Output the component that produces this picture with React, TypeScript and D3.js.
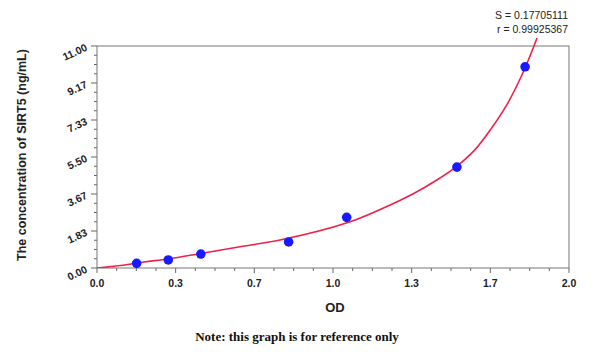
import { useEffect, useRef } from "react";
import * as d3 from "d3";

// measured standards (OD, concentration)
const pointOD = [0.168, 0.302, 0.44, 0.812, 1.058, 1.525, 1.814];
const pointConc = [0.23, 0.4, 0.69, 1.29, 2.51, 5.0, 9.97];

// fitted curve
const curveOD = [0.0, 0.1, 0.2, 0.3, 0.44, 0.6, 0.79, 1.06, 1.2, 1.34, 1.44, 1.52, 1.6, 1.67, 1.74, 1.8, 1.85, 1.88];
const curveConc = [0.0, 0.12, 0.3, 0.45, 0.72, 1.04, 1.42, 2.24, 2.9, 3.68, 4.36, 5.0, 5.84, 6.9, 8.16, 9.55, 10.95, 11.9];

const xTickLabels = ["0.0", "0.3", "0.7", "1.0", "1.3", "1.7", "2.0"];
const yTickLabels = ["0.00", "1.83", "3.67", "5.50", "7.33", "9.17", "11.00"];

const statLines = ["S = 0.17705111", "r = 0.99925367"];

export default function App() {
    const svgRef = useRef<SVGSVGElement>(null);

    useEffect(() => {
        if (!svgRef.current) return;
        const svg = d3.select(svgRef.current);
        svg.selectAll("*").remove();

        const left = 97, right = 569, top = 46, bottom = 268;
        const x = d3.scaleLinear().domain([0, 2]).range([left, right]);
        const y = d3.scaleLinear().domain([0, 11]).range([bottom, top]);
        const font = "Arial, 'Liberation Sans', sans-serif";

        // minor + major ticks (4 subdivisions per major step)
        const xMinor = d3.range(0, 25).map((i) => (i * 2) / 24);
        const yMinor = d3.range(0, 25).map((i) => (i * 11) / 24);

        const ticks = svg.append("g").attr("stroke", "#666").attr("stroke-width", 1);
        xMinor.forEach((v, i) => {
            ticks.append("line")
                .attr("x1", x(v)).attr("x2", x(v))
                .attr("y1", bottom).attr("y2", bottom + (i % 4 === 0 ? 5 : 3));
        });
        yMinor.forEach((v, i) => {
            ticks.append("line")
                .attr("x1", left).attr("x2", left - (i % 4 === 0 ? 6 : 3))
                .attr("y1", y(v)).attr("y2", y(v));
        });

        // frame
        svg.append("rect")
            .attr("x", left).attr("y", top)
            .attr("width", right - left).attr("height", bottom - top)
            .attr("fill", "none").attr("stroke", "#777").attr("stroke-width", 1);

        // tick labels
        xTickLabels.forEach((t, i) => {
            svg.append("text")
                .attr("x", x((i * 2) / 6)).attr("y", 287)
                .attr("text-anchor", "middle")
                .attr("font-family", font).attr("font-weight", "bold").attr("font-size", 10.5)
                .attr("fill", "#222")
                .text(t);
        });
        yTickLabels.forEach((t, i) => {
            const yy = y((i * 11) / 6);
            svg.append("text")
                .attr("transform", `translate(88,${yy + 4}) rotate(-25)`)
                .attr("text-anchor", "end")
                .attr("font-family", font).attr("font-weight", "bold").attr("font-size", 10.5)
                .attr("fill", "#222")
                .text(t);
        });

        // fitted curve
        const clipId = "plotClip";
        svg.append("clipPath").attr("id", clipId)
            .append("rect").attr("x", left).attr("y", top - 8)
            .attr("width", right - left).attr("height", bottom - top + 8);

        const curvePts = curveOD.map((v, i) => [v, curveConc[i]] as [number, number]);
        const line = d3.line<[number, number]>()
            .x((d) => x(d[0])).y((d) => y(d[1]))
            .curve(d3.curveCatmullRom.alpha(0.5));

        svg.append("path")
            .datum(curvePts)
            .attr("d", line)
            .attr("clip-path", `url(#${clipId})`)
            .attr("fill", "none").attr("stroke", "#f0204a").attr("stroke-width", 1.6);

        // points
        svg.append("g").selectAll("circle")
            .data(pointOD.map((v, i) => [v, pointConc[i]]))
            .enter().append("circle")
            .attr("cx", (d) => x(d[0])).attr("cy", (d) => y(d[1]))
            .attr("r", 4.8).attr("fill", "#1a1aff");

        // axis titles
        svg.append("text")
            .attr("x", 335).attr("y", 312)
            .attr("text-anchor", "middle")
            .attr("font-family", font).attr("font-weight", "bold").attr("font-size", 13)
            .attr("fill", "#222").text("OD");

        svg.append("text")
            .attr("transform", "translate(26,155) rotate(-90)")
            .attr("text-anchor", "middle")
            .attr("font-family", font).attr("font-weight", "bold").attr("font-size", 12.5)
            .attr("fill", "#222").text("The concentration of SIRT5 (ng/mL)");

        svg.append("text")
            .attr("x", 297).attr("y", 341)
            .attr("text-anchor", "middle")
            .attr("font-family", "'Liberation Serif', 'Times New Roman', serif")
            .attr("font-weight", "bold").attr("font-size", 13)
            .attr("fill", "#111").text("Note: this graph is for reference only");

        statLines.forEach((s, i) => {
            svg.append("text")
                .attr("x", 568).attr("y", 19 + i * 14)
                .attr("text-anchor", "end")
                .attr("font-family", font).attr("font-size", 10.5)
                .attr("fill", "#222").text(s);
        });
    }, []);

    return (
        <div style={{ position: "fixed", left: 0, top: 0, width: 600, height: 352, background: "#fff" }}>
            <svg ref={svgRef} width={600} height={352}></svg>
        </div>
    );
}
